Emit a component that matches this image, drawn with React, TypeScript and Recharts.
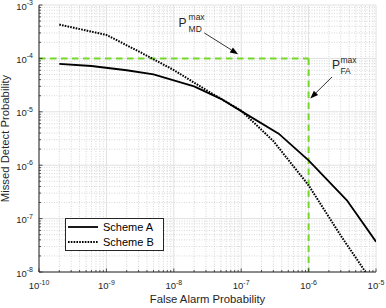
import { LineChart, Line, XAxis, YAxis, ReferenceLine, Legend } from "recharts";

// false alarm probability (x) / missed detect probability (y)
const schemeAFa = [2e-10, 6e-10, 2e-9, 5e-9, 2e-8, 5e-8, 1e-7, 3.6e-7, 1e-6, 3.7e-6, 1e-5];
const schemeAMd = [7.9e-5, 7.2e-5, 6.0e-5, 5.0e-5, 3.0e-5, 1.75e-5, 1.03e-5, 3.9e-6, 1.23e-6, 2.2e-7, 3.7e-8];

const schemeBFa = [2e-10, 1e-9, 3e-9, 1e-8, 3e-8, 1e-7, 3e-7, 1e-6, 3e-6, 7e-6];
const schemeBMd = [4.3e-4, 2.75e-4, 1.36e-4, 6.05e-5, 2.57e-5, 1.05e-5, 2.83e-6, 4.2e-7, 4.8e-8, 1e-8];

const xDecades = [-10, -9, -8, -7, -6, -5];
const yDecades = [-8, -7, -6, -5, -4, -3];

// thresholds
const pmdMax = 1e-4;
const pfaMax = 1e-6;

// annotation arrows: [from, to] in data units
const mdArrow = [{ x: 2.83e-8, y: 3.0e-4 }, { x: 9e-8, y: 1.2e-4 }];
const faArrow = [{ x: 2.23e-6, y: 4.5e-5 }, { x: 1.06e-6, y: 1.78e-5 }];

const schemeA = schemeAFa.map((x, i) => ({ x, y: schemeAMd[i] }));
const schemeB = schemeBFa.map((x, i) => ({ x, y: schemeBMd[i] }));

const pow10 = (e: number) => Number(`1e${e}`);

function isDecade(v: number) {
  const l = Math.log10(v);
  return Math.abs(l - Math.round(l)) < 1e-6;
}

function logTicks(decades: number[]) {
  const out: number[] = [];
  decades.forEach((e, i) => {
    if (i === decades.length - 1) {
      out.push(pow10(e));
      return;
    }
    for (let m = 1; m <= 9; m++) out.push(m * pow10(e));
  });
  return out;
}

const xTicks = logTicks(xDecades);
const yTicks = logTicks(yDecades);
const xMinor = xTicks.filter((v) => !isDecade(v));
const yMinor = yTicks.filter((v) => !isDecade(v));
const xMajor = xDecades.map(pow10);
const yMajor = yDecades.map(pow10);

const AXIS = "#262626";
const GREEN = "#74d72a";
const FONT = "'Liberation Sans', Arial, Helvetica, sans-serif";

function LogTick(props: any) {
  const { x, y, payload, axis } = props;
  const v = payload.value;
  const major = isDecade(v);
  const len = major ? 3.5 : 2;
  const exp = Math.round(Math.log10(v));
  if (axis === "x") {
    return (
      <g>
        <line x1={x} y1={y} x2={x} y2={y - len} stroke={AXIS} strokeWidth={0.8} />
        {major && (
          <text x={x} y={y + 17} textAnchor="middle" fontSize={9.5} fill={AXIS} fontFamily={FONT}>
            10
            <tspan dy={-4.5} fontSize={7}>
              {exp}
            </tspan>
          </text>
        )}
      </g>
    );
  }
  return (
    <g>
      <line x1={x} y1={y} x2={x + len} y2={y} stroke={AXIS} strokeWidth={0.8} />
      {major && (
        <text x={x - 6} y={y + 4.5} textAnchor="end" fontSize={9.5} fill={AXIS} fontFamily={FONT}>
          10
          <tspan dy={-4.5} fontSize={7}>
            {exp}
          </tspan>
        </text>
      )}
    </g>
  );
}

function arrowShape(sub: string, pdx: number, pdy: number, sdx: number, supDy: number, subDy: number) {
  return (props: any) => {
    const { x1, y1, x2, y2 } = props;
    const a = Math.atan2(y2 - y1, x2 - x1);
    const L = 8;
    const W = 3;
    const bx = x2 - L * Math.cos(a);
    const by = y2 - L * Math.sin(a);
    const pts = [
      [x2, y2],
      [bx + W * Math.sin(a), by - W * Math.cos(a)],
      [bx - W * Math.sin(a), by + W * Math.cos(a)],
    ]
      .map((p) => p.join(","))
      .join(" ");
    return (
      <g>
        <line x1={x1} y1={y1} x2={bx} y2={by} stroke="#000" strokeWidth={0.8} />
        <polygon points={pts} fill="#000" />
        <text fill={AXIS} fontFamily={FONT}>
          <tspan x={x1 + pdx} y={y1 + pdy} fontSize={12}>
            P
          </tspan>
          <tspan x={x1 + sdx} y={y1 + supDy} fontSize={8.5}>
            max
          </tspan>
          <tspan x={x1 + sdx} y={y1 + subDy} fontSize={8.5}>
            {sub}
          </tspan>
        </text>
      </g>
    );
  };
}

function AxisTitle(props: any) {
  const { viewBox, text, vertical } = props;
  const { x, y, width, height } = viewBox;
  if (vertical) {
    const cx = x + 9;
    const cy = y + height / 2;
    return (
      <text
        x={cx}
        y={cy}
        transform={`rotate(-90 ${cx} ${cy})`}
        textAnchor="middle"
        fontSize={11.3}
        fill={AXIS}
        fontFamily={FONT}
      >
        {text}
      </text>
    );
  }
  return (
    <text x={x + width / 2} y={y + height - 5} textAnchor="middle" fontSize={11.3} fill={AXIS} fontFamily={FONT}>
      {text}
    </text>
  );
}

const series = [
  { name: "Scheme A", data: schemeA, dash: undefined as string | undefined, width: 1.8 },
  { name: "Scheme B", data: schemeB, dash: "1.6 1.2", width: 2 },
];

const renderLegend = () => (
  <div
    style={{
      width: 97,
      height: 31,
      border: `1px solid ${AXIS}`,
      background: "#fff",
      fontFamily: FONT,
      fontSize: 11,
      color: "#000",
    }}
  >
    {series.map((s) => (
      <div key={s.name} style={{ display: "flex", alignItems: "center", height: 15.5 }}>
        <svg width={35} height={4} style={{ marginLeft: 2 }}>
          <line x1={0} y1={2} x2={30} y2={2} stroke="#000" strokeWidth={s.width} strokeDasharray={s.dash} />
        </svg>
        <span>{s.name}</span>
      </div>
    ))}
  </div>
);

export default function App() {
  return (
    <div style={{ position: "absolute", left: 0, top: 0, background: "#fff" }}>
      <LineChart
        width={386}
        height={308}
        margin={{ top: 5, right: 10, bottom: 0, left: 0 }}
        style={{ fontFamily: FONT }}
      >
        {xMinor.map((v) => (
          <ReferenceLine key={`xm${v}`} x={v} stroke="#cdcdcd" strokeWidth={0.8} strokeDasharray="1 1.5" />
        ))}
        {yMinor.map((v) => (
          <ReferenceLine key={`ym${v}`} y={v} stroke="#cdcdcd" strokeWidth={0.8} strokeDasharray="1 1.5" />
        ))}
        {xMajor.map((v) => (
          <ReferenceLine key={`xM${v}`} x={v} stroke="#e0e0e0" strokeWidth={1} />
        ))}
        {yMajor.map((v) => (
          <ReferenceLine key={`yM${v}`} y={v} stroke="#e0e0e0" strokeWidth={1} />
        ))}

        <XAxis
          dataKey="x"
          type="number"
          scale="log"
          domain={[pow10(-10), pow10(-5)]}
          allowDataOverflow
          ticks={xTicks}
          interval={0}
          height={36}
          tickSize={0}
          tickMargin={0}
          axisLine={{ stroke: AXIS, strokeWidth: 1 }}
          tick={(p: any) => <LogTick {...p} axis="x" />}
          label={<AxisTitle text="False Alarm Probability" />}
        />
        <YAxis
          dataKey="y"
          type="number"
          scale="log"
          domain={[pow10(-8), pow10(-3)]}
          allowDataOverflow
          ticks={yTicks}
          interval={0}
          width={39}
          tickSize={0}
          tickMargin={0}
          axisLine={{ stroke: AXIS, strokeWidth: 1 }}
          tick={(p: any) => <LogTick {...p} axis="y" />}
          label={<AxisTitle text="Missed Detect Probability" vertical />}
        />

        <ReferenceLine
          segment={[{ x: pow10(-10), y: pmdMax }, { x: pfaMax, y: pmdMax }]}
          stroke={GREEN}
          strokeWidth={2}
          strokeDasharray="6.5 4.5"
        />
        <ReferenceLine
          segment={[{ x: pfaMax, y: pmdMax }, { x: pfaMax, y: pow10(-8) }]}
          stroke={GREEN}
          strokeWidth={2}
          strokeDasharray="6.5 4.5"
        />

        {series.map((s) => (
          <Line
            key={s.name}
            data={s.data}
            dataKey="y"
            name={s.name}
            type="linear"
            stroke="#000"
            strokeWidth={s.width}
            strokeDasharray={s.dash}
            dot={false}
            activeDot={false}
            isAnimationActive={false}
          />
        ))}

        <ReferenceLine segment={mdArrow} shape={arrowShape("MD", -25.7, -6.3, -15.7, -13, -1.3)} />
        <ReferenceLine segment={faArrow} shape={arrowShape("FA", 0, -8.4, 8.3, -14, -2.7)} />

        <Legend
          layout="vertical"
          align="center"
          verticalAlign="middle"
          content={renderLegend}
          wrapperStyle={{ left: 65, top: 218, width: 99, height: 33 }}
        />
      </LineChart>
    </div>
  );
}
